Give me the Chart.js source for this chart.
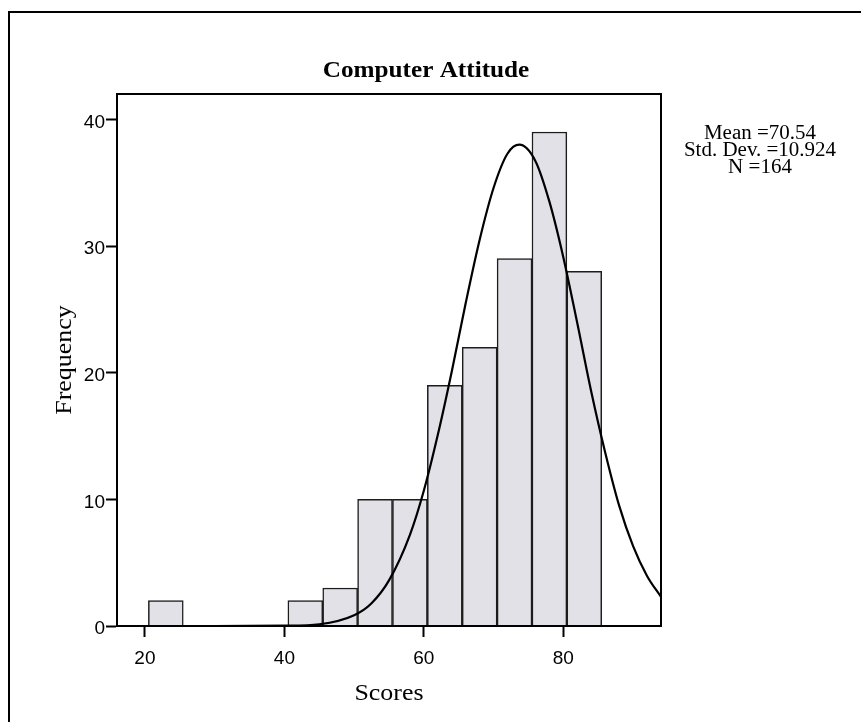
<!DOCTYPE html>
<html>
<head>
<meta charset="utf-8">
<script src="https://cdn.jsdelivr.net/npm/chart.js@4.4.0/dist/chart.umd.min.js"></script>
<style>
  html, body { margin: 0; padding: 0; background: #fff; }
  #wrap { width: 861px; height: 722px; position: relative; }
</style>
</head>
<body>
<div id="wrap"><canvas id="myChart" width="861" height="722"></canvas></div>
<script>
// histogram bins (lower edge of each 5-point bin) and counts
const binLower = [20.5, 40.5, 45.5, 50.5, 55.5, 60.5, 65.5, 70.5, 75.5, 80.5];
const binWidth = 5;
const counts = [2, 2, 3, 10, 10, 19, 22, 29, 39, 28];

// normal curve
const curveX = [16, 30, 40, 45, 50, 52.5, 55, 58, 60, 62, 64, 66, 68, 70, 72, 73.7, 76, 78, 80, 82, 84, 86, 88, 90, 92, 94];
const curveY = [0, 0, 0.03, 0.14, 0.85, 1.8, 3.6, 7.2, 10.7, 15.1, 20.1, 25.5, 30.5, 34.6, 37.3, 38.0, 36.7, 33.5, 29.1, 23.9, 18.5, 13.7, 9.5, 6.3, 3.95, 2.3];

const xTicks = [20, 40, 60, 80];
const yTicks = [0, 10, 20, 30, 40];

const statLines = ['Mean =70.54', 'Std. Dev. =10.924', 'N =164'];

const serif = '"Liberation Serif", "Times New Roman", serif';
const sans = '"Liberation Sans", Arial, sans-serif';

function stretchText(ctx, text, x, y, font, sx, rot) {
    ctx.save();
    ctx.translate(x, y);
    if (rot) ctx.rotate(rot);
    ctx.scale(sx, 1);
    ctx.font = font;
    ctx.fillStyle = '#000';
    ctx.textAlign = 'center';
    ctx.textBaseline = 'alphabetic';
    ctx.fillText(text, 0, 0);
    ctx.restore();
}

const textPlugin = {
    id: 'texts',
    beforeDraw(chart) {
        const ctx = chart.ctx;
        ctx.save();
        ctx.fillStyle = '#fff';
        ctx.fillRect(0, 0, chart.width, chart.height);
        // outer frame
        ctx.strokeStyle = '#000';
        ctx.lineWidth = 2;
        ctx.beginPath();
        ctx.moveTo(9, chart.height);
        ctx.lineTo(9, 12);
        ctx.lineTo(chart.width, 12);
        ctx.stroke();
        ctx.restore();
    },
    afterDraw(chart) {
        const ctx = chart.ctx;
        const a = chart.chartArea;
        ctx.save();
        ctx.strokeStyle = '#000';
        ctx.lineWidth = 2;
        ctx.strokeRect(a.left, a.top, a.right - a.left, a.bottom - a.top);
        ctx.restore();

        stretchText(ctx, 'Computer Attitude', 426, 77, 'bold 24px ' + serif, 1.05);
        stretchText(ctx, 'Scores', (a.left + a.right) / 2, 700, '24px ' + serif, 1.08);
        stretchText(ctx, 'Frequency', 71, (a.top + a.bottom) / 2, '24px ' + serif, 1.08, -Math.PI / 2);

        statLines.forEach((t, i) => {
            stretchText(ctx, t, 760, 139 + i * 17, '20px ' + serif, 1.05);
        });
    }
};

var ctx = document.getElementById('myChart');
var myChart = new Chart(ctx, {
    type: 'bar',
    data: {
        datasets: [
            {
                type: 'line',
                label: 'Normal',
                data: curveX.map((x, i) => ({ x: x, y: curveY[i] })),
                borderColor: '#000',
                borderWidth: 2.2,
                pointRadius: 0,
                fill: false,
                cubicInterpolationMode: 'monotone',
                order: 0
            },
            {
                label: 'Frequency',
                data: binLower.map((lo, i) => ({ x: lo + binWidth / 2, y: counts[i] })),
                backgroundColor: '#e1e1e7',
                borderColor: '#1c1c1c',
                borderWidth: 1.5,
                barPercentage: 1,
                categoryPercentage: 1,
                order: 1
            }
        ]
    },
    options: {
        responsive: false,
        animation: false,
        layout: {
            padding: { left: 72, right: 200, top: 94, bottom: 36 }
        },
        plugins: {
            legend: { display: false },
            tooltip: { enabled: false }
        },
        scales: {
            x: {
                type: 'linear',
                min: 16,
                max: 94,
                offset: false,
                afterBuildTicks: s => { s.ticks = xTicks.map(v => ({ value: v })); },
                afterFit: s => { s.height = 60; },
                border: { display: true, color: '#000', width: 2 },
                grid: {
                    display: true,
                    offset: false,
                    drawOnChartArea: false,
                    drawTicks: true,
                    tickLength: 11,
                    tickColor: '#000',
                    tickWidth: 2
                },
                ticks: {
                    color: '#000',
                    padding: 10,
                    maxRotation: 0,
                    font: { family: sans, size: 19 }
                }
            },
            y: {
                type: 'linear',
                min: 0,
                max: 42,
                afterBuildTicks: s => { s.ticks = yTicks.map(v => ({ value: v })); },
                afterFit: s => { s.width = 45; },
                border: { display: true, color: '#000', width: 2 },
                grid: {
                    display: true,
                    drawOnChartArea: false,
                    drawTicks: true,
                    tickLength: 11,
                    tickColor: '#000',
                    tickWidth: 2
                },
                ticks: {
                    color: '#000',
                    padding: 1,
                    labelOffset: 3,
                    font: { family: sans, size: 19 }
                }
            }
        }
    },
    plugins: [textPlugin]
});
</script>
</body>
</html>
